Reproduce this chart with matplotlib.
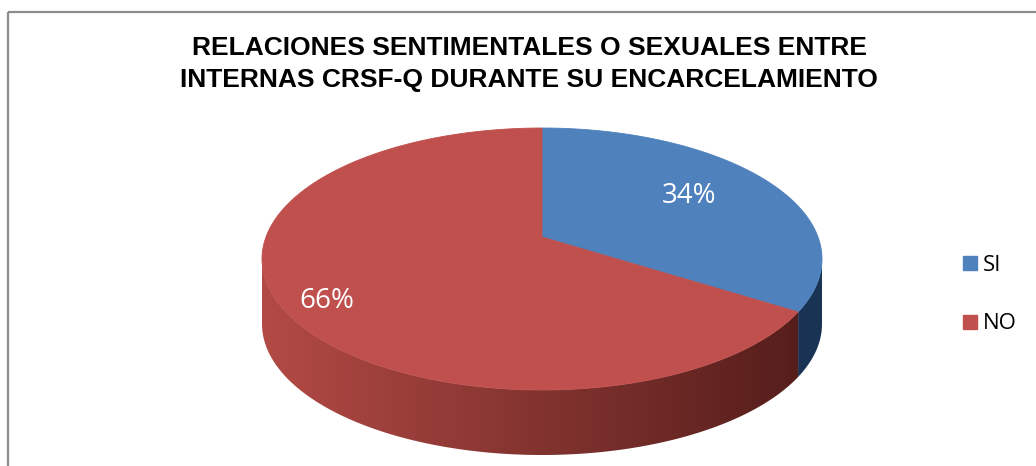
import numpy as np
import matplotlib
matplotlib.use('Agg')
import matplotlib.pyplot as plt
from matplotlib.patches import Polygon, Rectangle
from matplotlib.lines import Line2D

# data
categories = ['SI', 'NO']
percent = [34, 66]
top_colors = ['#4F81BD', '#C0504D']
side_light = [(0.16, 0.28, 0.44), (0.70, 0.29, 0.27)]
side_dark = [(0.10, 0.20, 0.33), (0.32, 0.11, 0.10)]
label_r = [0.63, 0.84]
title = ('RELACIONES SENTIMENTALES O SEXUALES ENTRE\n'
         'INTERNAS CRSF-Q DURANTE SU ENCARCELAMIENTO')

W, H = 1036, 466
fig = plt.figure(figsize=(W / 100, H / 100), dpi=100)
ax = fig.add_axes([0, 0, 1, 1])
ax.set_xlim(0, W)
ax.set_ylim(H, 0)
ax.axis('off')

# chart frame (only top and left edges are inside the picture)
ax.add_patch(Rectangle((8, 12), 1200, 600, fill=False, edgecolor='#8c8c8c', lw=1.6))

# pie geometry in pixels, simple perspective of a disc
cx, y_c, y_far, y_near = 542, 237, 128, 390
rx, depth = 280, 65
c = (2 * y_c - y_far - y_near) / (y_far - y_near)
B = y_far + y_far * c - y_c
A = rx * np.sqrt(1 - c ** 2)


def proj(u, v):
    w = 1 + c * v
    return cx + A * u / w, (y_c + B * v) / w


def arc(t0, t1, n=200):
    t = np.radians(np.linspace(t0, t1, n))
    return np.column_stack(proj(np.cos(t), np.sin(t)))


vals = np.array(percent, dtype=float)
edges = 90 - 360 * np.concatenate([[0], np.cumsum(vals) / vals.sum()])

# visible part of the side wall
a = np.degrees(np.arcsin(c))
vis_lo, vis_hi = -180 + a, -a
xl, xr = cx - rx, cx + rx
grad = np.linspace(0, 1, 512)

for i in range(len(vals)):
    t_start, t_end = edges[i], edges[i + 1]
    lo, hi = max(t_end, vis_lo), min(t_start, vis_hi)
    if lo >= hi:
        continue
    top = arc(lo, hi)
    bot = top.copy()
    bot[:, 1] += depth
    pts = np.vstack([top, bot[::-1]])
    poly = Polygon(pts, closed=True, facecolor='none', edgecolor='none')
    ax.add_patch(poly)
    l = np.array(side_light[i])
    d = np.array(side_dark[i])
    img = (l[None, :] + (d - l)[None, :] * grad[:, None])[None, :, :]
    im = ax.imshow(img, extent=(xl, xr, y_near + depth + 5, y_far), aspect='auto',
                   interpolation='bilinear', zorder=1)
    im.set_clip_path(poly)

for i in range(len(vals)):
    pts = np.vstack([[proj(0, 0)], arc(edges[i], edges[i + 1])])
    ax.add_patch(Polygon(pts, closed=True, facecolor=top_colors[i],
                         edgecolor=top_colors[i], lw=0.6, zorder=2))
    mid = np.radians((edges[i] + edges[i + 1]) / 2)
    lx, ly = proj(label_r[i] * np.cos(mid), label_r[i] * np.sin(mid))
    ax.text(lx + (3 if i == 1 else 2), ly + (9 if i == 1 else -4), f'{percent[i]}%',
            color='white', fontsize=20, family='Open Sans', ha='center',
            va='center', zorder=3)

ax.text(529, 64, title, ha='center', va='center', fontsize=19,
        fontweight='bold', family='Liberation Sans', linespacing=1.4)

handles = [Line2D([], [], marker='s', ls='', color=col, markersize=10)
           for col in top_colors]
ax.legend(handles, categories, loc='center left', bbox_to_anchor=(0.9273, 0.368),
          frameon=False, borderpad=0, borderaxespad=0, handlelength=0.8,
          handletextpad=0.2, labelspacing=1.7,
          prop={'family': 'Open Sans', 'size': 16})

fig.savefig('out.png', dpi=100)
